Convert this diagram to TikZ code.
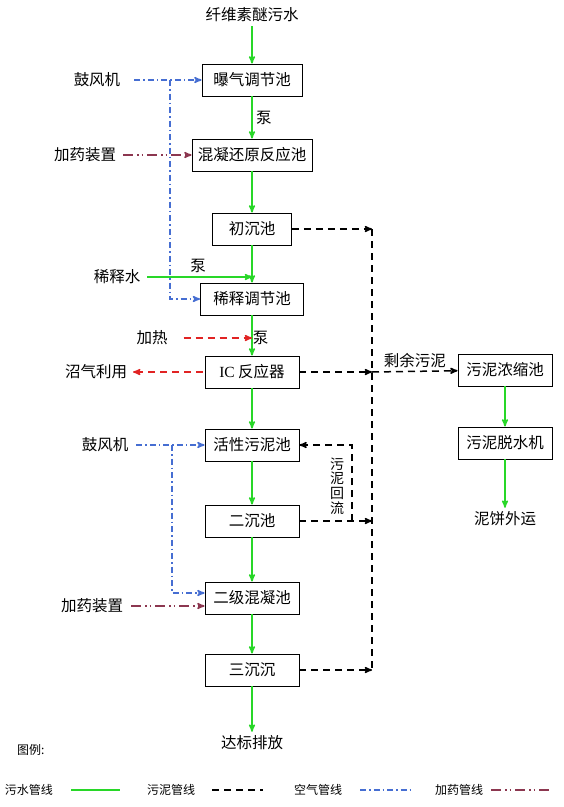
\documentclass[tikz,border=0pt]{standalone}
\usepackage{fontspec}
\setmainfont{Noto Sans CJK SC}
\newfontfamily\latinrm{Liberation Serif}
\usetikzlibrary{arrows}

\definecolor{pipegreen}{RGB}{40,215,40}
\definecolor{pipeblue}{RGB}{70,110,210}
\definecolor{pipered}{RGB}{225,35,35}
\definecolor{pipedose}{RGB}{140,55,80}

\begin{document}
\begin{tikzpicture}[x=1pt,y=-1pt,>=stealth',line width=1.5pt,font=\fontsize{15.5}{17}\selectfont]
  \tikzstyle{pool}=[draw,line width=0.8pt,minimum width=94pt,minimum height=32pt,inner sep=2pt]
  \tikzstyle{water}=[->,draw=pipegreen]
  \tikzstyle{sludge}=[->,draw=black,dash pattern=on 7pt off 5pt]
  \tikzstyle{air}=[->,draw=pipeblue,dash pattern=on 6pt off 3pt on 1.5pt off 3pt]
  \tikzstyle{dose}=[->,draw=pipedose,dash pattern=on 10pt off 4pt on 1.5pt off 3pt on 1.5pt off 4pt]
  \tikzstyle{gas}=[->,draw=pipered,dash pattern=on 7pt off 5pt]
  \tikzstyle{legend}=[font=\fontsize{12}{13}\selectfont]

  \useasboundingbox (0,0) rectangle (564,807);

  % main line
  \node (src)   at (252,15)  {纤维素醚污水};
  \node[pool,minimum width=100pt] (aer)  at (252,80)  {曝气调节池};
  \node[pool,minimum width=120pt] (coag) at (252,155) {混凝还原反应池};
  \node[pool,minimum width=79pt]  (prim) at (252,229) {初沉池};
  \node[pool,minimum width=103pt] (dil)  at (252,299) {稀释调节池};
  \node[pool] (ic)    at (252,372) {{\latinrm IC} 反应器};
  \node[pool] (act)   at (252,445) {活性污泥池};
  \node[pool] (sec)   at (252,521) {二沉池};
  \node[pool] (coag2) at (252,598) {二级混凝池};
  \node[pool] (ter)   at (252,670) {三沉沉};
  \node (out) at (252,743) {达标排放};

  % sludge line
  \node[pool] (thick) at (505,370) {污泥浓缩池};
  \node[pool] (dewat) at (505,443) {污泥脱水机};
  \node (cake) at (505,519) {泥饼外运};

  % side inputs
  \node (fan1)  at (97,80)   {鼓风机};
  \node (dose1) at (85,155)  {加药装置};
  \node (wat)   at (117,277) {稀释水};
  \node (heat)  at (152,338) {加热};
  \node (gas)   at (96,372)  {沼气利用};
  \node (fan2)  at (105,445) {鼓风机};
  \node (dose2) at (92,606)  {加药装置};

  \coordinate (j1) at (252,277);
  \coordinate (j2) at (252,338);
  \coordinate (a1) at (170,80);
  \coordinate (a2) at (172,445);
  \coordinate (s1) at (372,229);
  \coordinate (s2) at (372,372);
  \coordinate (s3) at (372,521);
  \coordinate (s4) at (372,670);
  \coordinate (r1) at (352,521);

  \path[water] (src) edge (aer)
        (aer) edge node[right] {泵} (coag)
        (coag) edge (prim)
        (prim) edge (dil)
        (dil) edge (ic)
        (ic) edge (act)
        (act) edge (sec)
        (sec) edge (coag2)
        (coag2) edge (ter)
        (ter) edge (out)
        (thick) edge (dewat)
        (dewat) edge (cake);

  \draw[water,shorten <=3pt] (wat) -- node[above] {泵} (j1);
  \draw[gas,shorten <=12pt] (heat) -- (j2) node[right,inner sep=0pt] {泵};
  \draw[gas,shorten <=2pt,shorten >=2pt] (ic) -- (gas);

  \draw[air,shorten <=10pt] (fan1) -- (aer);
  \draw[air] (a1) |- (dil.west);
  \draw[dose,shorten <=3pt] (dose1) -- (coag);
  \draw[air,shorten <=4pt] (fan2) -- (act);
  \draw[air] (a2) |- ([yshift=5pt]coag2.west);
  \draw[dose,shorten <=4pt] (dose2) -- (dose2 -| coag2.west);

  \draw[sludge] (prim) -- (s1);
  \draw[sludge,-] (s1) -- (s4);
  \draw[sludge] (ic) -- (s2);
  \draw[sludge] (s2) -- node[above] {剩余污泥} (thick);
  \draw[sludge] (sec) -- (s3);
  \draw[sludge] (r1) |- (act);
  \draw[sludge] (ter) -- (s4);
  \node[align=center,inner sep=0pt,font=\fontsize{14}{14.6}\selectfont] (ret) at (337,486) {污\\泥\\回\\流};

  % legend
  \node[legend,anchor=west] (key) at (13,750) {图例:};
  \node[legend] (kw) at (29,790)  {污水管线};
  \node[legend] (ks) at (171,790) {污泥管线};
  \node[legend] (ka) at (318,790) {空气管线};
  \node[legend] (kd) at (459,790) {加药管线};
  \coordinate (kw1) at (71,790);  \coordinate (kw2) at (120,790);
  \coordinate (ks1) at (212,790); \coordinate (ks2) at (263,790);
  \coordinate (ka1) at (360,790); \coordinate (ka2) at (410,790);
  \coordinate (kd1) at (491,790); \coordinate (kd2) at (552,790);
  \draw[water,-] (kw1) -- (kw2);
  \draw[sludge,-,line width=2.2pt] (ks1) -- (ks2);
  \draw[air,-] (ka1) -- (ka2);
  \draw[dose,-] (kd1) -- (kd2);
\end{tikzpicture}
\end{document}
